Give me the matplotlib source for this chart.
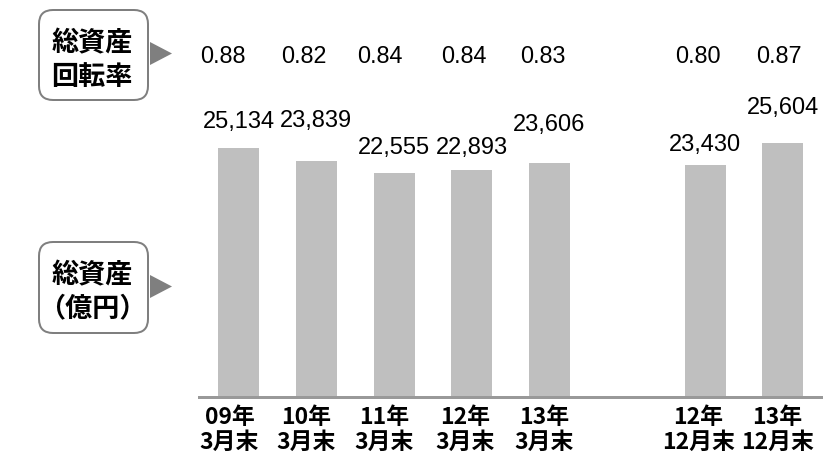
import matplotlib
matplotlib.use("Agg")
import matplotlib.pyplot as plt
from matplotlib.patches import FancyBboxPatch, Polygon
import matplotlib.transforms as mtransforms

# ---- data ----
cat_year = ["09年", "10年", "11年", "12年", "13年", "12年", "13年"]
cat_month = ["3月末", "3月末", "3月末", "3月末", "3月末", "12月末", "12月末"]
positions = [0, 1, 2, 3, 4, 6, 7]
total_assets = [25134, 23839, 22555, 22893, 23606, 23430, 25604]
turnover = [0.88, 0.82, 0.84, 0.84, 0.83, 0.80, 0.87]

# label offsets (pixels) -- layout only
val_dy_px = [26, 40, 25, 22, 38, 20, 35]
ratio_dx_px = [-16, -12.5, -14.5, -7.5, -7, -7.5, -3.5]
cat_dx_px = [-9, -10, -9.5, -7, -5.5, -6.5, -5.5]

W, H = 823, 454
DPI = 100
PT = 72.0 / DPI

JP = ["Noto Sans CJK JP", "DejaVu Sans"]
NUM = ["Liberation Sans", "DejaVu Sans"]

fig = plt.figure(figsize=(W / DPI, H / DPI), dpi=DPI)

ax_left, ax_right = 199, 823
base_y = 396.5
ax = fig.add_axes([ax_left / W, (H - base_y) / H, (ax_right - ax_left) / W, base_y / H])
px_per_unit = 248.5 / 25134
ax.set_ylim(0, base_y / px_per_unit)
spacing = 77.75
x0 = -(238.5 - ax_left) / spacing
x1 = x0 + (ax_right - ax_left) / spacing
ax.set_xlim(x0, x1)

ax.bar(positions, total_assets, width=41 / spacing, color="#BFBFBF", zorder=2)

for s in ["top", "right", "left"]:
    ax.spines[s].set_visible(False)
ax.spines["bottom"].set_color("#999999")
ax.spines["bottom"].set_linewidth(3 * PT)
ax.set_xticks([])
ax.set_yticks([])
ax.patch.set_alpha(0)

# value labels
for p, v, dy in zip(positions, total_assets, val_dy_px):
    ax.annotate(f"{v:,}", xy=(p, v), xytext=(0, dy * PT), textcoords="offset points",
                ha="center", va="center", fontsize=17, family=NUM, color="#000000")

# ratio labels (y fixed in figure pixels)
trans_ratio = mtransforms.blended_transform_factory(ax.transData, fig.transFigure)
for p, r, dx in zip(positions, turnover, ratio_dx_px):
    ax.annotate(f"{r:.2f}", xy=(p, 1 - 56.7 / H), xycoords=trans_ratio,
                xytext=(dx * PT, 0), textcoords="offset points",
                ha="center", va="center", fontsize=16.8, family=NUM, color="#000000",
                annotation_clip=False)

# category labels
for p, yl, ml, dx in zip(positions, cat_year, cat_month, cat_dx_px):
    ax.annotate(yl, xy=(p, 1 - 418 / H), xycoords=trans_ratio,
                xytext=(dx * PT, 0), textcoords="offset points",
                ha="center", va="center", fontsize=16.5, fontweight="bold", family=JP,
                annotation_clip=False)
    ax.annotate(ml, xy=(p, 1 - 442 / H), xycoords=trans_ratio,
                xytext=(dx * PT, 0), textcoords="offset points",
                ha="center", va="center", fontsize=16.5, fontweight="bold", family=JP,
                annotation_clip=False)

# overlay axes in pixel coordinates for callouts
ov = fig.add_axes([0, 0, 1, 1])
ov.set_xlim(0, W)
ov.set_ylim(H, 0)
ov.axis("off")
ov.patch.set_alpha(0)

def callout(top, bottom, tip_y, lines, line_ys):
    box = FancyBboxPatch((39, top), 109, bottom - top,
                         boxstyle="round,pad=0,rounding_size=14",
                         facecolor="white", edgecolor="#7F7F7F", linewidth=2 * PT)
    ov.add_patch(box)
    tri = Polygon([[150, tip_y - 11.5], [172, tip_y], [150, tip_y + 11.5]],
                  closed=True, facecolor="#7F7F7F", edgecolor="none")
    ov.add_patch(tri)
    for t, y in zip(lines, line_ys):
        ov.text(92, y, t, ha="center", va="center", fontsize=19.5,
                fontweight="bold", family=JP, color="#000000")

callout(10, 100, 53.5, ["総資産", "回転率"], [43, 77])
callout(242, 333, 286.5, ["総資産", "（億円）"], [275, 308])

fig.savefig("out.png", dpi=DPI)
